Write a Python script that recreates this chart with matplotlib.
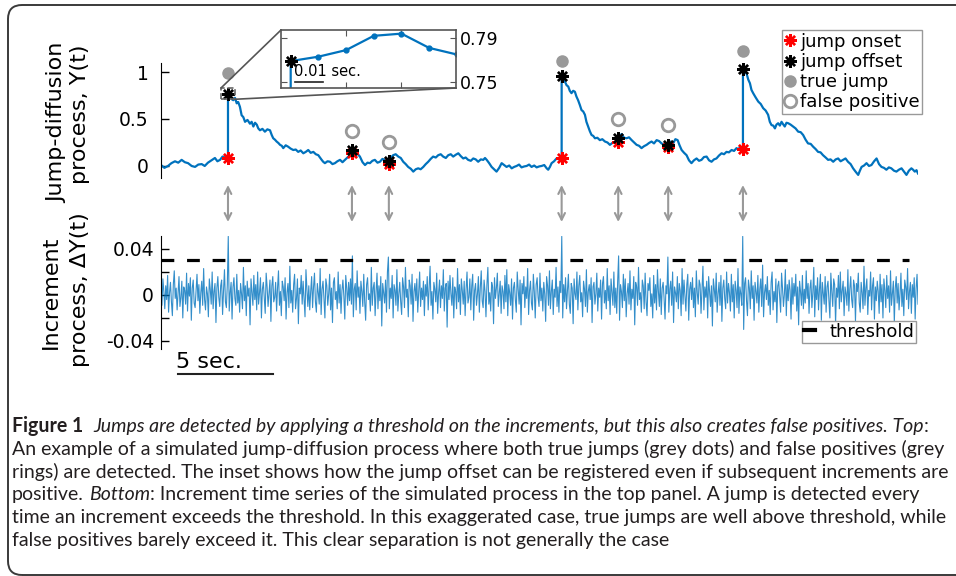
import matplotlib
matplotlib.use('Agg')
import numpy as np
import matplotlib.pyplot as plt
from matplotlib.lines import Line2D
from matplotlib.patches import Rectangle, FancyBboxPatch, ConnectionPatch

# ---- data ----
# top panel: jump-diffusion trace, (time in sec, value)
trace_pts = [
    (0.0, 0.01), (0.18, -0.02), (0.37, 0.0), (0.55, 0.03), (0.74, 0.05), (0.91, 0.035),
    (1.09, 0.065), (1.26, 0.04), (1.43, 0.03), (1.62, 0.0), (1.80, -0.01), (1.97, 0.015),
    (2.15, 0.02), (2.31, 0.0), (2.48, 0.035), (2.66, 0.06), (2.85, 0.085), (2.98, 0.05),
    (3.12, 0.065), (3.25, 0.1), (3.38, 0.09), (3.46, 0.105), (3.54, 0.08), (3.54, 0.77),
    (3.60, 0.73), (3.65, 0.755), (3.74, 0.71), (3.82, 0.70), (3.91, 0.725), (4.00, 0.667),
    (4.08, 0.68), (4.17, 0.63), (4.26, 0.54), (4.35, 0.52), (4.44, 0.47), (4.57, 0.49),
    (4.70, 0.45), (4.79, 0.47), (4.88, 0.42), (4.97, 0.46), (5.06, 0.44), (5.14, 0.40),
    (5.23, 0.38), (5.36, 0.395), (5.49, 0.365), (5.62, 0.39), (5.76, 0.38), (5.85, 0.33),
    (5.93, 0.295), (6.02, 0.28), (6.11, 0.26), (6.20, 0.245), (6.29, 0.225), (6.38, 0.215),
    (6.46, 0.19), (6.59, 0.22), (6.72, 0.205), (6.85, 0.185), (6.99, 0.17), (7.12, 0.175),
    (7.25, 0.15), (7.38, 0.165), (7.52, 0.135), (7.65, 0.15), (7.78, 0.17), (7.91, 0.14),
    (8.05, 0.15), (8.18, 0.125), (8.31, 0.115), (8.40, 0.09), (8.49, 0.065), (8.57, 0.045),
    (8.66, 0.03), (8.80, 0.05), (8.93, 0.045), (9.06, 0.02), (9.19, 0.03), (9.32, 0.05),
    (9.46, 0.065), (9.59, 0.04), (9.72, 0.065), (9.85, 0.09), (9.98, 0.115), (10.09, 0.14),
    (10.09, 0.17), (10.30, 0.15), (10.51, 0.10), (10.65, 0.04), (10.78, 0.01), (10.91, 0.035),
    (11.04, 0.03), (11.17, 0.055), (11.30, 0.065), (11.44, 0.035), (11.57, 0.045), (11.70, 0.075),
    (11.83, 0.065), (11.94, 0.04), (12.04, 0.02), (12.04, 0.05), (12.15, 0.09), (12.27, 0.115),
    (12.40, 0.125), (12.54, 0.10), (12.67, 0.085), (12.80, 0.045), (12.93, 0.02), (13.06, -0.01),
    (13.20, -0.03), (13.33, -0.06), (13.46, -0.035), (13.59, -0.025), (13.72, -0.035), (13.86, -0.01),
    (13.99, 0.02), (14.12, 0.045), (14.25, 0.075), (14.38, 0.10), (14.52, 0.09), (14.65, 0.115),
    (14.78, 0.125), (14.91, 0.10), (15.05, 0.085), (15.18, 0.115), (15.31, 0.125), (15.44, 0.10),
    (15.58, 0.12), (15.71, 0.135), (15.84, 0.105), (15.97, 0.08), (16.10, 0.09), (16.23, 0.065),
    (16.37, 0.055), (16.50, 0.08), (16.63, 0.07), (16.76, 0.045), (16.90, 0.07), (17.03, 0.065),
    (17.12, 0.085), (17.21, 0.065), (17.34, 0.03), (17.47, -0.01), (17.60, -0.035), (17.73, -0.06),
    (17.87, -0.02), (18.00, 0.03), (18.13, 0.01), (18.26, -0.01), (18.40, 0.005), (18.53, -0.025),
    (18.66, -0.01), (18.79, 0.0), (18.92, 0.015), (19.05, -0.015), (19.19, -0.005), (19.32, 0.0),
    (19.45, 0.015), (19.58, -0.01), (19.72, 0.005), (19.85, -0.015), (19.98, -0.005), (20.11, 0.0),
    (20.25, 0.01), (20.38, -0.025), (20.46, -0.04), (20.55, -0.01), (20.64, 0.03), (20.77, 0.05),
    (20.90, 0.08), (21.04, 0.07), (21.17, 0.09), (21.17, 0.96), (21.25, 0.93), (21.34, 0.90),
    (21.43, 0.86), (21.52, 0.845), (21.60, 0.80), (21.69, 0.775), (21.78, 0.80), (21.87, 0.79),
    (21.95, 0.74), (22.04, 0.70), (22.13, 0.65), (22.22, 0.595), (22.31, 0.58), (22.40, 0.545),
    (22.48, 0.47), (22.57, 0.42), (22.66, 0.37), (22.75, 0.33), (22.84, 0.32), (22.93, 0.295),
    (23.06, 0.30), (23.19, 0.275), (23.32, 0.285), (23.46, 0.26), (23.59, 0.25), (23.72, 0.225),
    (23.85, 0.245), (23.98, 0.25), (24.07, 0.235), (24.16, 0.26), (24.16, 0.30), (24.25, 0.32),
    (24.34, 0.34), (24.47, 0.30), (24.60, 0.295), (24.73, 0.305), (24.87, 0.275), (25.00, 0.25),
    (25.13, 0.225), (25.26, 0.215), (25.39, 0.19), (25.52, 0.21), (25.66, 0.225), (25.79, 0.245),
    (25.92, 0.26), (26.05, 0.24), (26.19, 0.275), (26.32, 0.265), (26.45, 0.24), (26.62, 0.22),
    (26.80, 0.20), (26.80, 0.225), (26.93, 0.26), (27.06, 0.24), (27.18, 0.285), (27.30, 0.275),
    (27.40, 0.22), (27.51, 0.17), (27.64, 0.14), (27.77, 0.115), (27.90, 0.06), (28.03, 0.03),
    (28.16, 0.06), (28.30, 0.08), (28.43, 0.055), (28.56, 0.065), (28.69, 0.095), (28.83, 0.10),
    (28.96, 0.06), (29.09, 0.045), (29.22, 0.07), (29.35, 0.08), (29.48, 0.11), (29.62, 0.135),
    (29.75, 0.125), (29.88, 0.15), (30.01, 0.145), (30.15, 0.17), (30.28, 0.16), (30.41, 0.19),
    (30.51, 0.175), (30.60, 0.205), (30.75, 0.18), (30.75, 1.03), (30.85, 1.0), (30.94, 0.985),
    (31.03, 0.92), (31.12, 0.88), (31.20, 0.81), (31.29, 0.775), (31.42, 0.73), (31.56, 0.685),
    (31.69, 0.66), (31.82, 0.615), (31.95, 0.59), (32.08, 0.545), (32.17, 0.47), (32.26, 0.435),
    (32.35, 0.43), (32.44, 0.40), (32.52, 0.44), (32.61, 0.455), (32.70, 0.43), (32.79, 0.47),
    (32.87, 0.445), (32.96, 0.42), (33.05, 0.46), (33.14, 0.455), (33.27, 0.44), (33.40, 0.42),
    (33.53, 0.40), (33.67, 0.365), (33.80, 0.36), (33.93, 0.33), (34.06, 0.28), (34.19, 0.24),
    (34.33, 0.235), (34.46, 0.205), (34.59, 0.18), (34.72, 0.15), (34.85, 0.145), (34.98, 0.115),
    (35.12, 0.09), (35.25, 0.065), (35.38, 0.07), (35.52, 0.045), (35.65, 0.07), (35.78, 0.08),
    (35.91, 0.05), (36.04, 0.065), (36.17, 0.08), (36.30, 0.045), (36.44, 0.02), (36.57, -0.025),
    (36.70, -0.06), (36.84, -0.095), (36.93, -0.05), (37.02, -0.01), (37.15, 0.005), (37.28, 0.03),
    (37.41, 0.0), (37.54, 0.01), (37.68, 0.05), (37.81, 0.08), (37.94, 0.02), (38.07, -0.01),
    (38.20, -0.02), (38.33, -0.04), (38.46, -0.015), (38.59, -0.025), (38.73, -0.05), (38.86, -0.06),
    (38.99, -0.04), (39.13, -0.025), (39.26, -0.06), (39.39, -0.095), (39.52, -0.05), (39.65, -0.025),
    (39.74, -0.04), (39.83, -0.06), (39.92, -0.045), (40.00, -0.08)]

jump_t = [3.54, 21.17, 30.75]
jump_onset = [0.08, 0.09, 0.18]
jump_offset = [0.77, 0.96, 1.03]
jump_dot = [0.99, 1.12, 1.22]

fp_t = [10.09, 12.04, 24.16, 26.80]
fp_onset = [0.14, 0.02, 0.26, 0.20]
fp_offset = [0.17, 0.05, 0.30, 0.225]
fp_ring = [0.37, 0.255, 0.50, 0.44]

# inset: samples right after the first jump (sec after jump, value)
inset_t = [0.0, 0.0, 0.01, 0.02, 0.03, 0.04, 0.05, 0.06]
inset_y = [0.08, 0.769, 0.773, 0.779, 0.792, 0.794, 0.781, 0.775]

# bottom panel: increments (x 1e-3), evenly spaced over 40 s
incr_milli = [
    5, -9, 14, 3, -12, 8, -4, 17, -15, 2, 11, -6, -18, 9, 21, -3, 6, -13, 1, 16,
    -10, -2, 12, -20, 7, 4, -8, 19, -14, 10, -1, 15, -22, 6, 13, -7, -11, 3, 18, -5,
    9, -16, 2, 12, -9, 23, -4, -13, 7, 1, -19, 14, 5, -8, 20, -12, 3, 10, -24, 6,
    16, -2, -10, 8, 13, -17, 4, 22, -6, -11, 9, 51, -14, 2, 11, -21, 7, 15, -3, -9,
    18, -7, 4, -15, 10, 1, -12, 24, -5, 8, -18, 12, -1, 6, -26, 14, 3, -9, 17, -4,
    9, -13, 20, -8, 2, 15, -20, 5, 11, -3, -16, 19, 7, -10, 1, 13, -23, 8, 16, -6,
    -2, 11, -14, 6, 21, -9, 3, -18, 12, 7, -5, 15, -21, 2, 10, -11, 25, -7, 4, -15,
    9, 18, -12, -3, 14, -25, 6, 1, 17, -8, 12, -4, -19, 22, 5, -10, 8, -13, 3, 16,
    -11, 7, 19, -6, -15, 10, 2, -8, 23, -17, 5, 12, -3, -20, 14, 8, -9, 1, 18, -13,
    6, -24, 11, 15, -4, 3, -12, 20, -7, 9, -16, 4, 13, -1, -21, 17, 6, -9, 11, -5,
    14, -8, 34, -19, 5, 10, -13, 21, -2, 7, -16, 12, 3, -10, 18, -6, -22, 9, 15, -4,
    1, -14, 24, -9, 6, 11, -18, 3, 19, -12, 8, -5, 16, -27, 10, 2, -7, 13, -15, 20,
    33, -12, 6, -3, 17, -20, 9, 4, -9, 22, -14, 1, 11, -6, -17, 15, 7, -11, 24, -2,
    5, -19, 13, 8, -8, 18, -23, 3, 10, -5, 14, -15, 2, 20, -10, 6, -4, 12, -18, 9,
    -1, 16, -13, 7, 25, -9, 3, -21, 11, 5, -6, 19, -16, 2, 13, -11, 8, -3, 22, -14,
    6, 10, -28, 12, -4, 17, 1, -9, 15, -20, 7, 3, -12, 23, -6, 9, -17, 14, 4, -8,
    12, -18, 5, 20, -7, -2, 14, -13, 8, 18, -22, 4, 10, -9, 1, 16, -15, 6, 21, -5,
    -11, 13, 3, -19, 9, 24, -8, 2, -14, 11, 7, -25, 15, -3, 6, 19, -10, 1, 12, -16,
    8, 3, -12, 17, -6, 22, -18, 9, 2, -9, 14, -21, 6, 11, -4, -15, 20, 5, -8, 13,
    -26, 10, 1, 16, -11, 7, -3, 23, -17, 4, 12, -7, -13, 18, 3, -20, 9, 15, -2, -10,
    19, -5, 6, -14, 11, 1, -23, 16, 8, -9, 21, -12, 3, 13, -17, 5, -2, 24, -10, 7,
    -15, 12, 2, 51, -20, 9, -6, 15, -12, 4, 18, -8, -16, 10, 6, -25, 14, 1, -4, 20,
    -13, 8, 17, -6, 2, -19, 12, 5, -10, 22, -15, 3, 9, -4, 15, -24, 7, 11, -8, 1,
    19, -14, 6, -2, 13, -21, 10, 16, -7, 4, -12, 23, -5, 8, -17, 14, 2, -9, 20, -11,
    6, -16, 12, 34, -22, 9, 3, -11, 18, -5, 14, -19, 1, 10, -8, 21, -13, 5, -3, 16,
    -26, 11, 7, -9, 24, -4, 2, -15, 13, 8, -12, 19, -6, -18, 10, 4, 15, -10, 1, -20,
    17, -7, 9, -13, 22, 3, -10, 14, -17, 6, 11, -3, -21, 8, 1, 33, -15, 5, 12, -9,
    20, -24, 7, 2, -6, 16, -12, 10, 4, -18, 23, -8, 13, -1, -14, 9, 18, -22, 5, 11,
    -4, 15, -11, 6, -19, 21, 2, -8, 13, 9, -16, 4, 25, -13, 7, -2, 12, -20, 16, 3,
    -10, 8, -27, 14, 5, -6, 19, -15, 1, 11, -9, 17, -23, 6, 13, -3, -12, 20, -7, 10,
    2, -14, 18, -6, 9, -20, 12, 4, -11, 23, -16, 7, 1, -9, 51, -30, 10, 15, -5, -18,
    13, 6, -12, 21, -3, 8, -22, 11, 3, -7, 17, -15, 5, 14, -10, 26, -19, 2, 9, -4,
    16, -9, 4, -17, 11, 20, -13, 3, -6, 14, -24, 8, 12, -2, -15, 19, 6, -10, 1, 22,
    -18, 9, -5, 13, 4, -21, 15, -8, 10, -1, 18, -14, 7, -26, 12, 3, -9, 17, -12, 5,
    -7, 21, -3, 10, -16, 6, 13, -11, 2, 24, -19, 8, -4, 15, -13, 5, 18, -22, 11, 1,
    -8, 16, -15, 7, 12, -5, -20, 19, 3, -10, 14, 9, -25, 6, -2, 17, -12, 20, -6, 4,
    12, -18, 7, 1, -9, 22, -14, 5, 16, -4, -11, 13, 8, -23, 10, 3, 19, -7, -15, 11,
    2, -12, 25, -9, 6, 14, -17, 4, -1, 20, -13, 8, 15, -21, 7, -5, 12, 3, -16, 18,
    -6, 9, -20, 14, 4, -11, 17, -3, 8, -15, 21, -9, 2, 12, -24, 6, 16, -7, 10, -13,
    1, 19, -10, 5, -18, 13, 7, -4, 23, -12, 3, 11, -16, 9, -2, 15, -21, 6, 18, -8]
threshold = 0.03

caption = [
    [("Figure 1  ", {"weight": "bold"}),
     ("Jumps are detected by applying a threshold on the increments, but this also creates false positives. Top",
      {"style": "italic"}),
     (":", {})],
    [("An example of a simulated jump-diffusion process where both true jumps (grey dots) and false positives (grey", {})],
    [("rings) are detected. The inset shows how the jump offset can be registered even if subsequent increments are", {})],
    [("positive. ", {}), ("Bottom", {"style": "italic"}),
     (": Increment time series of the simulated process in the top panel. A jump is detected every", {})],
    [("time an increment exceeds the threshold. In this exaggerated case, true jumps are well above threshold, while", {})],
    [("false positives barely exceed it. This clear separation is not generally the case", {})],
]

# ---- figure ----
W, H = 956, 576
BLUE = '#0072BD'
GREY = '#999999'
plt.rcParams['font.family'] = ['DejaVu Sans']
plt.rcParams['axes.unicode_minus'] = False
fig = plt.figure(figsize=(W / 100, H / 100), dpi=100)
star = (8, 2, 0)

# outer frame
fig.add_artist(FancyBboxPatch((0.08, 0.01), 9.7, 5.70,
                              boxstyle='round,pad=0,rounding_size=0.14',
                              transform=fig.dpi_scale_trans, fill=False,
                              ec='#3a3a3a', lw=1.4))

# top panel
trace_t = [p[0] for p in trace_pts]
trace_y = [p[1] for p in trace_pts]
ax1 = fig.add_axes([161 / W, 1 - 178 / H, 757 / W, 115 / H])
ax1.plot(trace_t, trace_y, color=BLUE, lw=1.6, zorder=2)
ax1.set_xlim(0, 40)
ax1.set_ylim(-0.128, 1.096)
for s in ['top', 'right', 'bottom']:
    ax1.spines[s].set_visible(False)
ax1.set_xticks([])
ax1.set_yticks([0, 0.5, 1])
ax1.set_yticklabels(['0', '0.5', '1'])
ax1.tick_params(axis='y', direction='in', length=6, width=1, labelsize=13.5, pad=9)

ax1.plot(jump_t + fp_t, jump_onset + fp_onset, ls='none', marker=star, ms=9,
         mec='red', mew=1.7, zorder=4, clip_on=False)
ax1.plot(jump_t + fp_t, jump_offset + fp_offset, ls='none', marker=star, ms=9,
         mec='black', mew=1.7, zorder=5, clip_on=False)
ax1.plot(jump_t, jump_dot, ls='none', marker='o', ms=8, color=GREY, clip_on=False)
ax1.plot(fp_t, fp_ring, ls='none', marker='o', ms=9, mfc='none', mec=GREY, mew=2,
         clip_on=False)

# dashed box around the first offset, linked to the inset
rx0, rx1 = jump_t[0] - 0.37, jump_t[0] + 0.37
ry0, ry1 = jump_offset[0] - 0.06, jump_offset[0] + 0.06
ax1.add_patch(Rectangle((rx0, ry0), rx1 - rx0, ry1 - ry0, fill=False, ls='--',
                        ec='#666666', lw=1.2, clip_on=False, zorder=6))

# arrows between panels
for t in sorted(jump_t + fp_t):
    ax1.annotate('', xy=(t, 1 - 222 / H), xytext=(t, 1 - 185 / H),
                 xycoords=('data', 'figure fraction'),
                 textcoords=('data', 'figure fraction'),
                 arrowprops=dict(arrowstyle='<->', color=GREY, lw=1.5,
                                 shrinkA=0, shrinkB=0, mutation_scale=12),
                 annotation_clip=False)

# inset
axin = fig.add_axes([281 / W, 1 - 88 / H, 175 / W, 58 / H])
axin.plot(inset_t, inset_y, color=BLUE, lw=1.6)
axin.plot(inset_t[2:], inset_y[2:], ls='none', marker='o', ms=3.5, color=BLUE)
axin.plot(inset_t[1], inset_y[1], marker=star, ms=9, mec='black', mew=1.7)
axin.set_xlim(-0.0035, 0.0597)
axin.set_ylim(0.7445, 0.7973)
axin.yaxis.tick_right()
axin.set_yticks([0.75, 0.79])
axin.set_yticklabels(['0.75', '0.79'])
axin.set_xticks([0.02, 0.04])
axin.tick_params(axis='y', direction='in', left=True, right=True, length=4,
                 labelsize=12.5, pad=3, color='#555555')
axin.tick_params(axis='x', direction='in', top=True, bottom=True, length=4,
                 labelbottom=False, color='#555555')
for s in axin.spines.values():
    s.set_color('#555555')
    s.set_linewidth(1.2)
axin.plot([0.0016, 0.0117], [0.7503, 0.7503], color='#222222', lw=1.2)
axin.text(0.0012, 0.7525, '0.01 sec.', fontsize=10.5, va='bottom', ha='left')

for xa, xb in [((0, 1), (rx0, ry1)), ((1, 0), (rx1, ry0))]:
    fig.add_artist(ConnectionPatch(xyA=xa, coordsA=axin.transAxes, xyB=xb,
                                   coordsB=ax1.transData, color='#555555', lw=1.2))

# bottom panel
incr = np.array(incr_milli) / 1000.0
incr_t = np.linspace(0, 40, len(incr))
ax2 = fig.add_axes([161 / W, 1 - 349 / H, 757 / W, 113 / H])
ax2.plot(incr_t, incr, color=BLUE, lw=0.8, alpha=0.8)
ax2.hlines(threshold, 0, 39.5, colors='black', lw=2.3, linestyles=(0, (4, 4)))
ax2.set_xlim(0, 40)
ax2.set_ylim(-0.047, 0.0513)
for s in ['top', 'right', 'bottom']:
    ax2.spines[s].set_visible(False)
ax2.set_xticks([])
ax2.set_yticks([-0.04, -0.02, 0, 0.02, 0.04])
ax2.set_yticklabels(['-0.04', '', '0', '', '0.04'])
ax2.tick_params(axis='y', direction='in', length=6, width=1, labelsize=13.5, pad=5)

# 5 sec scale bar
ax2.plot([0.9, 5.92], [-0.0687, -0.0687], color='#222222', lw=1.5, clip_on=False)
ax2.text(0.8, -0.0635, '5 sec.', fontsize=16, va='baseline', ha='left')

# axis labels
fig.text(57 / W, 1 - 123 / H, 'Jump-diffusion', rotation=90, ha='center', va='center', fontsize=16)
fig.text(80 / W, 1 - 114 / H, 'process, Y(t)', rotation=90, ha='center', va='center', fontsize=16)
fig.text(51 / W, 1 - 292 / H, 'Increment', rotation=90, ha='center', va='center', fontsize=16)
fig.text(80 / W, 1 - 290 / H, 'process, \u0394Y(t)', rotation=90, ha='center', va='center', fontsize=16)

# legends
handles = [Line2D([], [], ls='none', marker=star, ms=9, mec='red', mew=1.7),
           Line2D([], [], ls='none', marker=star, ms=9, mec='black', mew=1.7),
           Line2D([], [], ls='none', marker='o', ms=8, color=GREY),
           Line2D([], [], ls='none', marker='o', ms=9, mfc='none', mec=GREY, mew=2)]
leg = fig.legend(handles, ['jump onset', 'jump offset', 'true jump', 'false positive'],
                 loc='upper left', bbox_to_anchor=(782 / W, 1 - 30 / H), fontsize=13,
                 frameon=True, fancybox=False, edgecolor=GREY, framealpha=1,
                 borderpad=0.15, handlelength=0.6, handletextpad=0.25,
                 labelspacing=0.12, borderaxespad=0)
leg.get_frame().set_linewidth(1.0)
leg2 = fig.legend([Line2D([], [], color='black', lw=3)], ['threshold'],
                  loc='upper left', bbox_to_anchor=(802 / W, 1 - 321 / H), fontsize=13,
                  frameon=True, fancybox=False, edgecolor=GREY, framealpha=1,
                  borderpad=0.1, handlelength=0.6, handletextpad=0.8, borderaxespad=0)
leg2.get_frame().set_linewidth(1.0)

# caption with mixed styles
cap_family = ['Lato', 'DejaVu Sans']
renderer = fig.canvas.get_renderer()


def text_width(s, size, **kw):
    t = fig.text(0, 0, s, fontsize=size, family=cap_family, **kw)
    w = t.get_window_extent(renderer).width
    t.remove()
    return w


cap_size = 10 * 936 / text_width(caption[1][0][0], 10)
space_w = text_width('a a', cap_size) - text_width('aa', cap_size)

for i, parts in enumerate(caption):
    x = 12
    y = 432 + i * 22.8
    for s, kw in parts:
        body = s.rstrip(' ')
        t = fig.text(x / W, 1 - y / H, body, fontsize=cap_size, family=cap_family,
                     va='baseline', ha='left', color='#231f20', **kw)
        x += t.get_window_extent(renderer).width + space_w * (len(s) - len(body))

fig.savefig('out.png', dpi=100)
